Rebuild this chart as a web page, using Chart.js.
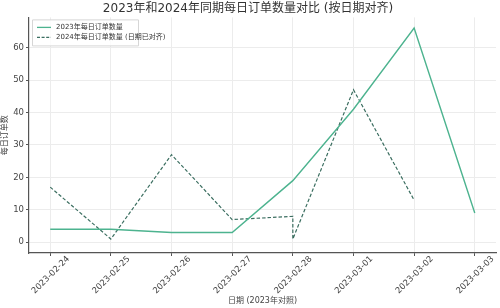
<!DOCTYPE html>
<html><head><meta charset="utf-8">
<script src="https://cdn.jsdelivr.net/npm/chart.js@4/dist/chart.umd.min.js"></script>
<style>html,body{margin:0;padding:0;background:#fff}#wrap{width:500px;height:308px}</style>
</head><body><div id="wrap"><canvas id="c" width="500" height="308"></canvas></div>
<script>
const dates = ["2023-02-24","2023-02-25","2023-02-26","2023-02-27","2023-02-28","2023-03-01","2023-03-02","2023-03-03"];
const yTicks = [0,10,20,30,40,50,60];
// 2023 series: x index into dates, value
const x2023 = [0,1,2,3,4,5,6,7];
const v2023 = [4,4,3,3,19,41,66,9];
// 2024 series aligned to 2023 dates (2024-02-29 falls on 02-28)
const x2024 = [0,1,2,3,4,4,5,6];
const v2024 = [17,1,27,7,8,1,47,13];

const titleText = "2023年和2024年同期每日订单数量对比 (按日期对齐)";
const label2023 = "2023年每日订单数量";
const label2024 = "2024年每日订单数量 (日期已对齐)";
const yTitle = "每日订单数";
const xTitle = "日期 (2023年对照)";

const FONT = "'DejaVu Sans','Noto Sans CJK SC',sans-serif";
const C1 = '#4db38f', C2 = '#3b6e60';

const legendPlugin = {
  id:'inLegend',
  afterDatasetsDraw(chart){
    const ctx = chart.ctx, a = chart.chartArea;
    const x0 = a.left+3, y0 = a.top+2, w = 106, h = 26;
    ctx.save();
    ctx.fillStyle='rgba(255,255,255,0.85)';
    ctx.strokeStyle='#d6d6d6'; ctx.lineWidth=1;
    ctx.beginPath(); ctx.rect(x0+0.5,y0+0.5,w,h); ctx.fill(); ctx.stroke();
    ctx.font = "7px "+FONT; ctx.textBaseline='middle'; ctx.fillStyle='#333';
    const items=[[label2023,C1,[]],[label2024,C2,[3,1.6]]];
    items.forEach((it,i)=>{
      const yy = y0+8+i*10;
      ctx.strokeStyle=it[1]; ctx.lineWidth=1.3; ctx.setLineDash(it[2]);
      ctx.beginPath(); ctx.moveTo(x0+5,yy); ctx.lineTo(x0+19,yy); ctx.stroke();
      ctx.setLineDash([]);
      ctx.fillText(it[0], x0+24, yy);
    });
    ctx.restore();
  }
};

new Chart(document.getElementById('c'), {
  type:'line',
  data:{datasets:[
    {label:label2023, data:x2023.map((x,i)=>({x, y:v2023[i]})), borderColor:C1, borderWidth:1.4, pointRadius:0, fill:false, tension:0},
    {label:label2024, data:x2024.map((x,i)=>({x, y:v2024[i]})), borderColor:C2, borderWidth:1.2, borderDash:[3.5,2], pointRadius:0, fill:false, tension:0}
  ]},
  options:{
    responsive:false, animation:false, parsing:true,
    layout:{padding:{left:0,right:4,top:0,bottom:0}},
    plugins:{
      legend:{display:false}, tooltip:{enabled:false},
      title:{display:true, text:titleText, color:'#333', font:{family:FONT,size:12,weight:'normal'}, padding:{top:2,bottom:1}}
    },
    scales:{
      x:{type:'linear', min:-0.35, max:7.35,
        afterBuildTicks(s){ s.ticks = dates.map((_,i)=>({value:i})); },
        afterFit(s){ s.height = 55; },
        ticks:{autoSkip:false, maxRotation:45, minRotation:45, color:'#444', font:{family:FONT,size:8.5}, padding:-2, labelOffset:18,
          callback:(v)=>dates[v]},
        grid:{color:'#ececec', tickColor:'#555', tickLength:3},
        border:{color:'#555', width:1.2},
        title:{display:true, text:xTitle, color:'#444', font:{family:FONT,size:8}, padding:{top:0,bottom:2}}
      },
      y:{type:'linear', min:-3.3, max:69.3,
        afterBuildTicks(s){ s.ticks = yTicks.map(v=>({value:v})); },
        afterFit(s){ s.width = 29; },
        ticks:{color:'#444', font:{family:FONT,size:8.5}, padding:2},
        grid:{color:'#ececec', tickColor:'#555', tickLength:3},
        border:{color:'#555', width:1.2},
        title:{display:true, text:yTitle, color:'#444', font:{family:FONT,size:8}, padding:{top:0,bottom:1}}
      }
    }
  },
  plugins:[legendPlugin]
});
</script></body></html>
